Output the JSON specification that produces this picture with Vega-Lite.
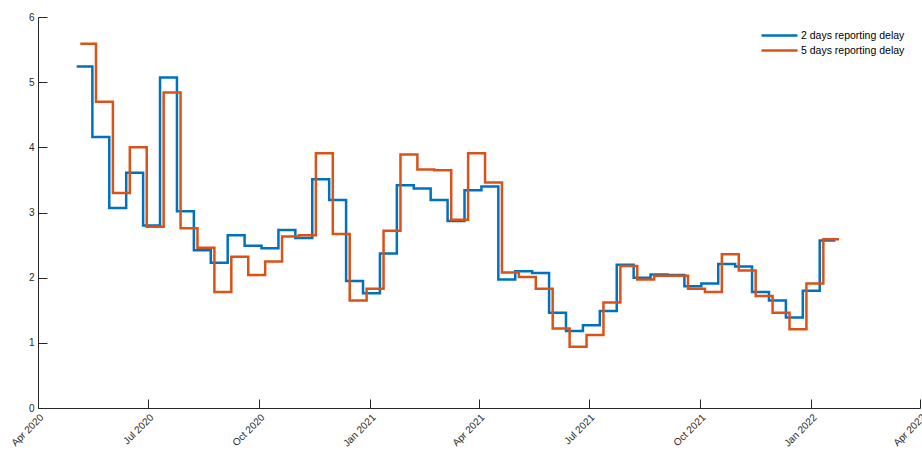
{
  "$schema": "https://vega.github.io/schema/vega-lite/v6.json",
  "width": 882,
  "height": 391,
  "autosize": {"type": "none"},
  "padding": {"left": 38, "top": 17, "right": 2, "bottom": 46},
  "background": "white",
  "config": {
    "view": {"stroke": null},
    "axis": {
      "domainColor": "#262626",
      "domainWidth": 1,
      "tickColor": "#262626",
      "tickWidth": 1,
      "tickSize": -9,
      "labelColor": "#262626",
      "labelFont": "Liberation Sans",
      "labelFontSize": 10,
      "grid": false,
      "title": null
    },
    "legend": {
      "labelFont": "Liberation Sans",
      "labelFontSize": 10.5,
      "labelColor": "#000000"
    }
  },
  "data": {
    "values": [
      {"date": "2020-05-03", "series": "2 days reporting delay", "value": 5.24},
      {"date": "2020-05-16", "series": "2 days reporting delay", "value": 4.16},
      {"date": "2020-05-30", "series": "2 days reporting delay", "value": 3.07},
      {"date": "2020-06-13", "series": "2 days reporting delay", "value": 3.61},
      {"date": "2020-06-27", "series": "2 days reporting delay", "value": 2.80},
      {"date": "2020-07-11", "series": "2 days reporting delay", "value": 5.07},
      {"date": "2020-07-25", "series": "2 days reporting delay", "value": 3.02},
      {"date": "2020-08-08", "series": "2 days reporting delay", "value": 2.42},
      {"date": "2020-08-22", "series": "2 days reporting delay", "value": 2.23},
      {"date": "2020-09-05", "series": "2 days reporting delay", "value": 2.65},
      {"date": "2020-09-19", "series": "2 days reporting delay", "value": 2.49},
      {"date": "2020-10-03", "series": "2 days reporting delay", "value": 2.45},
      {"date": "2020-10-17", "series": "2 days reporting delay", "value": 2.73},
      {"date": "2020-10-31", "series": "2 days reporting delay", "value": 2.61},
      {"date": "2020-11-14", "series": "2 days reporting delay", "value": 3.51},
      {"date": "2020-11-28", "series": "2 days reporting delay", "value": 3.19},
      {"date": "2020-12-12", "series": "2 days reporting delay", "value": 1.95},
      {"date": "2020-12-26", "series": "2 days reporting delay", "value": 1.76},
      {"date": "2021-01-09", "series": "2 days reporting delay", "value": 2.37},
      {"date": "2021-01-23", "series": "2 days reporting delay", "value": 3.42},
      {"date": "2021-02-06", "series": "2 days reporting delay", "value": 3.37},
      {"date": "2021-02-20", "series": "2 days reporting delay", "value": 3.19},
      {"date": "2021-03-06", "series": "2 days reporting delay", "value": 2.87},
      {"date": "2021-03-20", "series": "2 days reporting delay", "value": 3.34},
      {"date": "2021-04-03", "series": "2 days reporting delay", "value": 3.40},
      {"date": "2021-04-17", "series": "2 days reporting delay", "value": 1.97},
      {"date": "2021-05-01", "series": "2 days reporting delay", "value": 2.10},
      {"date": "2021-05-15", "series": "2 days reporting delay", "value": 2.07},
      {"date": "2021-05-29", "series": "2 days reporting delay", "value": 1.46},
      {"date": "2021-06-12", "series": "2 days reporting delay", "value": 1.18},
      {"date": "2021-06-26", "series": "2 days reporting delay", "value": 1.27},
      {"date": "2021-07-10", "series": "2 days reporting delay", "value": 1.49},
      {"date": "2021-07-24", "series": "2 days reporting delay", "value": 2.20},
      {"date": "2021-08-07", "series": "2 days reporting delay", "value": 2.00},
      {"date": "2021-08-21", "series": "2 days reporting delay", "value": 2.05},
      {"date": "2021-09-04", "series": "2 days reporting delay", "value": 2.04},
      {"date": "2021-09-18", "series": "2 days reporting delay", "value": 1.87},
      {"date": "2021-10-02", "series": "2 days reporting delay", "value": 1.91},
      {"date": "2021-10-16", "series": "2 days reporting delay", "value": 2.21},
      {"date": "2021-10-30", "series": "2 days reporting delay", "value": 2.17},
      {"date": "2021-11-13", "series": "2 days reporting delay", "value": 1.78},
      {"date": "2021-11-27", "series": "2 days reporting delay", "value": 1.65},
      {"date": "2021-12-11", "series": "2 days reporting delay", "value": 1.39},
      {"date": "2021-12-25", "series": "2 days reporting delay", "value": 1.80},
      {"date": "2022-01-08", "series": "2 days reporting delay", "value": 2.57},
      {"date": "2022-01-21", "series": "2 days reporting delay", "value": 2.57},
      {"date": "2020-05-06", "series": "5 days reporting delay", "value": 5.59},
      {"date": "2020-05-19", "series": "5 days reporting delay", "value": 4.70},
      {"date": "2020-06-02", "series": "5 days reporting delay", "value": 3.30},
      {"date": "2020-06-16", "series": "5 days reporting delay", "value": 4.00},
      {"date": "2020-06-30", "series": "5 days reporting delay", "value": 2.78},
      {"date": "2020-07-14", "series": "5 days reporting delay", "value": 4.84},
      {"date": "2020-07-28", "series": "5 days reporting delay", "value": 2.76},
      {"date": "2020-08-11", "series": "5 days reporting delay", "value": 2.46},
      {"date": "2020-08-25", "series": "5 days reporting delay", "value": 1.78},
      {"date": "2020-09-08", "series": "5 days reporting delay", "value": 2.32},
      {"date": "2020-09-22", "series": "5 days reporting delay", "value": 2.04},
      {"date": "2020-10-06", "series": "5 days reporting delay", "value": 2.25},
      {"date": "2020-10-20", "series": "5 days reporting delay", "value": 2.63},
      {"date": "2020-11-03", "series": "5 days reporting delay", "value": 2.65},
      {"date": "2020-11-17", "series": "5 days reporting delay", "value": 3.91},
      {"date": "2020-12-01", "series": "5 days reporting delay", "value": 2.67},
      {"date": "2020-12-15", "series": "5 days reporting delay", "value": 1.65},
      {"date": "2020-12-29", "series": "5 days reporting delay", "value": 1.83},
      {"date": "2021-01-12", "series": "5 days reporting delay", "value": 2.72},
      {"date": "2021-01-26", "series": "5 days reporting delay", "value": 3.89},
      {"date": "2021-02-09", "series": "5 days reporting delay", "value": 3.66},
      {"date": "2021-02-23", "series": "5 days reporting delay", "value": 3.65},
      {"date": "2021-03-09", "series": "5 days reporting delay", "value": 2.89},
      {"date": "2021-03-23", "series": "5 days reporting delay", "value": 3.91},
      {"date": "2021-04-06", "series": "5 days reporting delay", "value": 3.46},
      {"date": "2021-04-20", "series": "5 days reporting delay", "value": 2.08},
      {"date": "2021-05-04", "series": "5 days reporting delay", "value": 2.01},
      {"date": "2021-05-18", "series": "5 days reporting delay", "value": 1.83},
      {"date": "2021-06-01", "series": "5 days reporting delay", "value": 1.22},
      {"date": "2021-06-15", "series": "5 days reporting delay", "value": 0.94},
      {"date": "2021-06-29", "series": "5 days reporting delay", "value": 1.12},
      {"date": "2021-07-13", "series": "5 days reporting delay", "value": 1.62},
      {"date": "2021-07-27", "series": "5 days reporting delay", "value": 2.18},
      {"date": "2021-08-10", "series": "5 days reporting delay", "value": 1.97},
      {"date": "2021-08-24", "series": "5 days reporting delay", "value": 2.03},
      {"date": "2021-09-07", "series": "5 days reporting delay", "value": 2.03},
      {"date": "2021-09-21", "series": "5 days reporting delay", "value": 1.83},
      {"date": "2021-10-05", "series": "5 days reporting delay", "value": 1.78},
      {"date": "2021-10-19", "series": "5 days reporting delay", "value": 2.36},
      {"date": "2021-11-02", "series": "5 days reporting delay", "value": 2.11},
      {"date": "2021-11-16", "series": "5 days reporting delay", "value": 1.72},
      {"date": "2021-11-30", "series": "5 days reporting delay", "value": 1.46},
      {"date": "2021-12-14", "series": "5 days reporting delay", "value": 1.21},
      {"date": "2021-12-28", "series": "5 days reporting delay", "value": 1.91},
      {"date": "2022-01-11", "series": "5 days reporting delay", "value": 2.59},
      {"date": "2022-01-24", "series": "5 days reporting delay", "value": 2.59}
    ]
  },
  "mark": {"type": "line", "interpolate": "step-after", "strokeWidth": 2.5, "strokeJoin": "miter", "strokeCap": "butt"},
  "encoding": {
    "x": {
      "field": "date",
      "type": "temporal",
      "scale": {
        "type": "utc",
        "domain": [
          {"year": 2020, "month": 4, "date": 1, "utc": true},
          {"year": 2022, "month": 4, "date": 1, "utc": true}
        ],
        "nice": false
      },
      "axis": {
        "values": [
          {"year": 2020, "month": 4, "date": 1, "utc": true},
          {"year": 2020, "month": 7, "date": 1, "utc": true},
          {"year": 2020, "month": 10, "date": 1, "utc": true},
          {"year": 2021, "month": 1, "date": 1, "utc": true},
          {"year": 2021, "month": 4, "date": 1, "utc": true},
          {"year": 2021, "month": 7, "date": 1, "utc": true},
          {"year": 2021, "month": 10, "date": 1, "utc": true},
          {"year": 2022, "month": 1, "date": 1, "utc": true},
          {"year": 2022, "month": 4, "date": 1, "utc": true}
        ],
        "format": "%b %Y",
        "labelAngle": -45,
        "labelAlign": "right",
        "labelBaseline": "top",
        "labelPadding": 13,
        "labelOverlap": false,
        "labelFlush": false
      }
    },
    "y": {
      "field": "value",
      "type": "quantitative",
      "scale": {"domain": [0, 6], "nice": false, "zero": true},
      "axis": {"values": [0, 1, 2, 3, 4, 5, 6], "labelPadding": 13, "labelFlush": false}
    },
    "color": {
      "field": "series",
      "type": "nominal",
      "scale": {
        "domain": ["2 days reporting delay", "5 days reporting delay"],
        "range": ["#0072BD", "#D95319"]
      },
      "legend": {
        "title": null,
        "orient": "none",
        "legendX": 734,
        "legendY": 11,
        "padding": 0,
        "symbolType": "M-3,0H3",
        "symbolSize": 144,
        "symbolStrokeWidth": 2.5,
        "labelOffset": 14,
        "rowPadding": 2
      }
    }
  }
}
